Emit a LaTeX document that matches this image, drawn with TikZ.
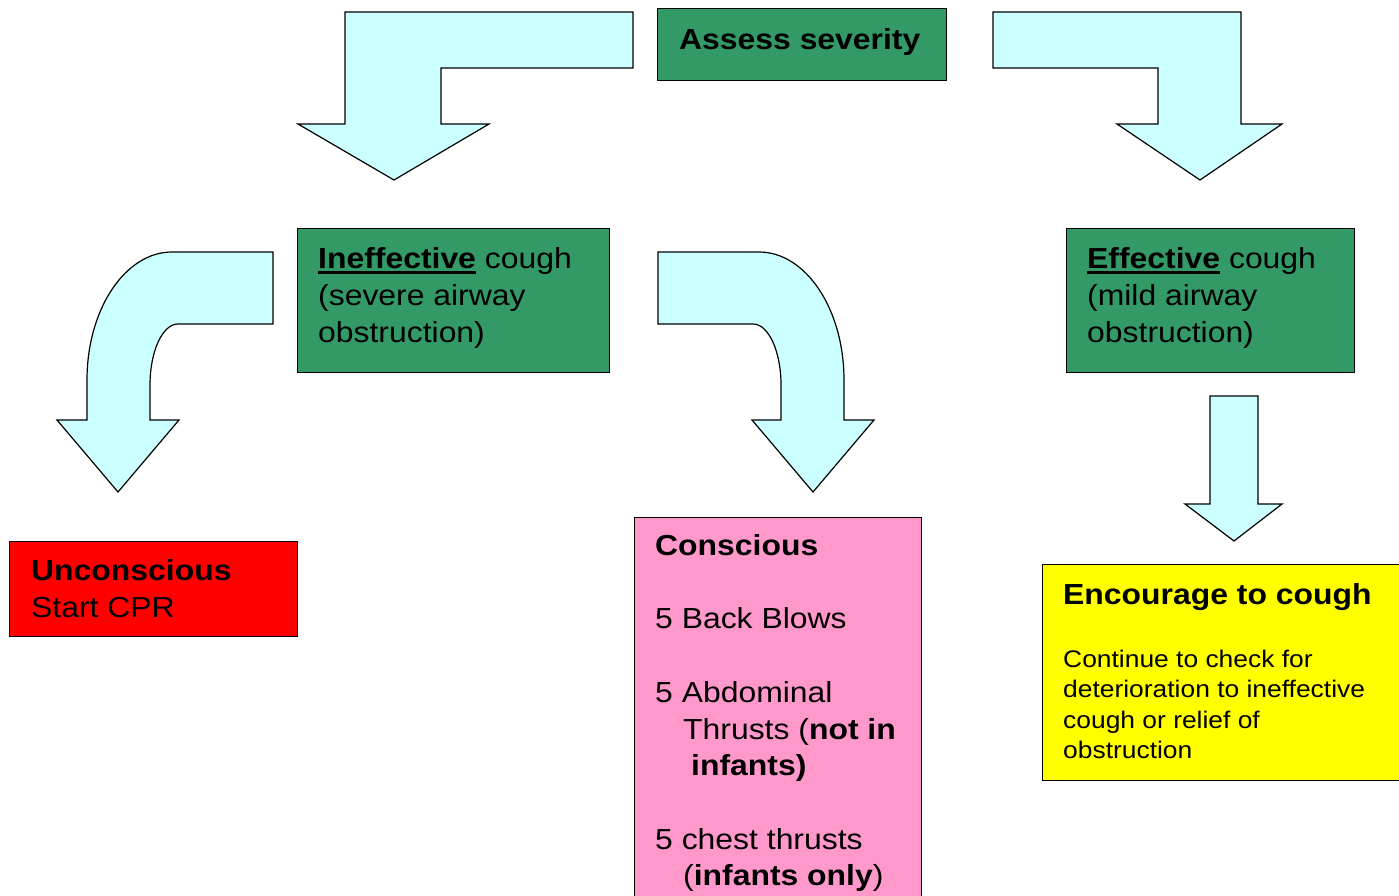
\documentclass[tikz,border=0pt]{standalone}
\usepackage{fontspec}
\setmainfont{Liberation Sans}[FakeStretch=1.1]
\definecolor{arrowfill}{HTML}{CCFFFF}
\definecolor{boxgreen}{HTML}{339966}
\definecolor{boxred}{HTML}{FF0000}
\definecolor{boxpink}{HTML}{FF99CC}
\definecolor{boxyellow}{HTML}{FFFF00}
\newcommand\fbig{\fontsize{29}{36.7}\selectfont}
\newcommand\fsmall{\fontsize{24}{30.4}\selectfont}
\newcommand\myul[1]{\setbox0\hbox{#1}\rlap{\rule[-5.5pt]{\wd0}{3pt}}\box0\relax}
\tikzset{
  blockarrow/.style={draw=black, line width=1.2pt, fill=arrowfill, line join=miter},
  boxnode/.style={draw=black, line width=1.3pt, anchor=north west, inner sep=0pt},
  txt/.style={anchor=base west, inner sep=0pt, align=left, font=\fbig},
}
\begin{document}
\begin{tikzpicture}[x=1pt, y=-1pt]
\useasboundingbox (0,0) rectangle (1399,896);
\clip (0,0) rectangle (1399,896);

% boxes
\node[boxnode, fill=boxgreen, minimum width=289, minimum height=72] (assess) at (657,8) {};
\node[boxnode, fill=boxgreen, minimum width=312, minimum height=144] (ineff) at (297,228) {};
\node[boxnode, fill=boxgreen, minimum width=288, minimum height=144] (eff) at (1066,228) {};
\node[boxnode, fill=boxred, minimum width=288, minimum height=95] (uncon) at (9,541) {};
\node[boxnode, fill=boxpink, minimum width=287, minimum height=400] (consc) at (634,517) {};
\node[boxnode, fill=boxyellow, minimum width=370, minimum height=216] (enc) at (1042,564) {};

% texts (base anchor = baseline of the last line)
\node[txt] (assesstxt) at (679,50) {\textbf{Assess severity}};
\node[txt] (innefftxt) at (318,342) {\myul{\textbf{Ineffective}} cough\\(severe airway\\obstruction)};
\node[txt] (efftxt) at (1087,342) {\myul{\textbf{Effective}} cough\\(mild airway\\obstruction)};
\node[txt] (uncontxt) at (31,617) {\textbf{Unconscious}\\Start CPR};
\node[txt] (consctxt) at (655,885.8) {\textbf{Conscious}\\[36.7pt]5 Back Blows\\[36.7pt]5 Abdominal\\\hspace*{28pt}Thrusts (\textbf{not in}\\\hspace*{36pt}\textbf{infants)}\\[36.7pt]5 chest thrusts\\\hspace*{28pt}(\textbf{infants only})};
\node[txt] (enctitle) at (1063,604) {\textbf{Encourage to cough}};
\node[txt, font=\fsmall] (encbody) at (1063,758.5) {Continue to check for\\deterioration to ineffective\\cough or relief of\\obstruction};

% top-left bent arrow
\draw[blockarrow] (633,12) -- (345,12) -- (345,124) -- (298,124) -- (394,180) -- (489,124) -- (441,124) -- (441,68) -- (633,68) -- cycle;
% top-right bent arrow
\draw[blockarrow] (993,12) -- (1241,12) -- (1241,124) -- (1282,124) -- (1200,180) -- (1117,124) -- (1158,124) -- (1158,68) -- (993,68) -- cycle;
% left curved arrow
\draw[blockarrow] (273,252) -- (273,324) -- (178,324) .. controls (162.5,324) and (150,351.3) .. (150,385) -- (150,420) -- (179,420) -- (118,492) -- (57,420) -- (87,420) -- (87,380) .. controls (87,309.3) and (125.1,252) .. (172,252) -- cycle;
% right curved arrow
\draw[blockarrow] (658,252) -- (658,324) -- (753,324) .. controls (768.5,324) and (781,351.3) .. (781,385) -- (781,420) -- (752,420) -- (813,492) -- (874,420) -- (844,420) -- (844,380) .. controls (844,309.3) and (805.9,252) .. (759,252) -- cycle;
% straight arrow
\draw[blockarrow] (1210,396) -- (1258,396) -- (1258,504) -- (1282,504) -- (1234,541) -- (1185,504) -- (1210,504) -- cycle;
\end{tikzpicture}
\end{document}
